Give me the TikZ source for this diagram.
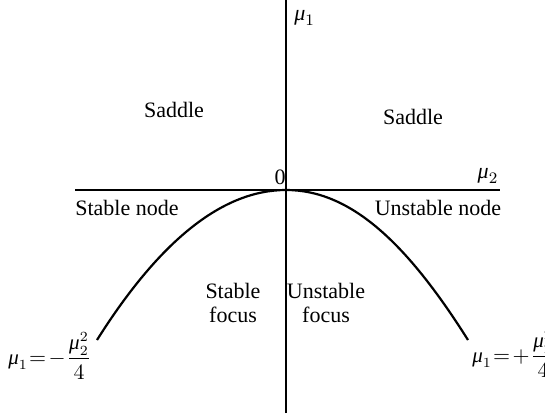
\documentclass[tikz,border=0pt]{standalone}
\usepackage{amsmath}
\usepackage{fontspec}
\setmainfont{Liberation Serif}
\usetikzlibrary{positioning}
\newcommand{\mupar}{\text{\itshape μ}}
\tikzset{
  % axes of the parameter plane
  axis/.style={line width=0.8pt},
  % boundary node/focus
  branch/.style={line width=1.1pt},
  % region names
  region/.style={font=\fontsize{11}{12}\selectfont, align=center},
  lbl/.style={font=\fontsize{11}{12}\selectfont, inner sep=1pt},
  eqlbl/.style={font=\fontsize{10.5}{12}\selectfont, inner sep=0pt},
}
\begin{document}
\begin{tikzpicture}[x=0.5pt, y=-0.5pt]
  \useasboundingbox (0,0) rectangle (545,413);
  % axes
  \coordinate (top) at (286,0);
  \coordinate (bot) at (286,413);
  \coordinate (left) at (75,190);
  \coordinate (right) at (500,190);
  \coordinate (O) at (286,190);
  \draw[axis] (bot) -- (top);
  \draw[axis] (left) -- (right);
  \node[lbl, anchor=west] (mu1) at (292,18) {$\mupar_1$};
  \node[lbl] (mu2) at (488,176) {$\mupar_2$};
  \node[lbl] (zero) at (280,177) {0};
  % parabola mu1 = -mu2^2/4
  \coordinate (pl) at (97,340);
  \coordinate (pr) at (468,340);
  \draw[branch] (pl) .. controls (160,240) and (223,190) .. (O)
                     .. controls (349,190) and (405,240) .. (pr);
  % regions
  \node[region] (sadl) at (174,110) {Saddle};
  \node[region] (sadr) at (413,117) {Saddle};
  \node[region] (snode) at (127,208) {Stable node};
  \node[region] (unode) at (438,208) {Unstable node};
  \node[region] (sfoc) at (233,303) {Stable\\focus};
  \node[region] (ufoc) at (326,303) {Unstable\\focus};
  % curve labels
  \node[eqlbl, anchor=west] (eql) at (8,356)
    {$\mupar_1\mskip1mu{=}\mskip2mu{-}\mskip1mu\dfrac{\mupar_2^2}{4}$};
  \node[eqlbl, anchor=west] (eqr) at (472,354)
    {$\mupar_1\mskip1mu{=}\mskip2mu{+}\mskip1mu\dfrac{\mupar_2^2}{4}$};
\end{tikzpicture}
\end{document}
